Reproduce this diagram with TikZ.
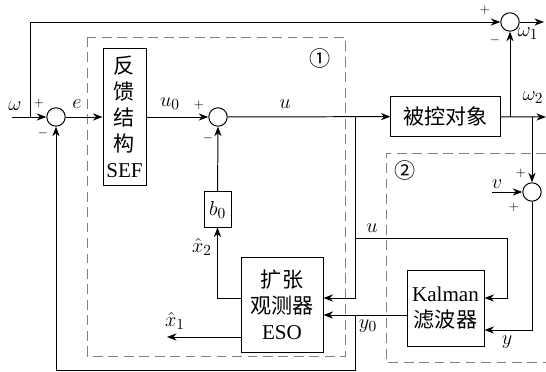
\documentclass[tikz,border=0pt]{standalone}
\usepackage{fontspec}
\setmainfont{Liberation Serif}
\newfontfamily\cjk{Noto Sans CJK SC}
\usetikzlibrary{arrows.meta}

\newcommand{\zh}[1]{{\cjk #1}}

\tikzset{
	block/.style={draw, line width=0.7pt, align=center, inner sep=0pt},
	sumnode/.style={draw, circle, line width=0.7pt, minimum size=0.46cm, inner sep=0pt},
	frame/.style={gray, line width=0.7pt, dash pattern=on 7pt off 4pt},
	sig/.style={line width=0.7pt, ->},
	sign/.style={font=\small},
}

\begin{document}
\begin{tikzpicture}[x=0.025cm, y=-0.025cm, >={Stealth[length=2.4mm, width=1.8mm]}, font=\fontsize{15}{18.5}\selectfont]
	\useasboundingbox (0,0) rectangle (546,372);
	% dashed frames
	\draw[frame] (87,37) rectangle (345,356);
	\draw[frame] (546,153) -- (386,153) -- (386,362) -- (546,362);
	\node (n1) at (320,58) {\zh{①}};
	\node (n2) at (405,170) {\zh{②}};
	% blocks
	\node[sumnode] (s1) at (56,117) {};
	\node[block, minimum width=1.075cm, minimum height=3.4cm] (sef) at (124.5,117) {\zh{反}\\\zh{馈}\\\zh{结}\\\zh{构}\\SEF};
	\node[sumnode] (s2) at (218,117) {};
	\node[block, minimum width=2.725cm, minimum height=0.975cm] (plant) at (445.5,116.5) {\zh{被控对象}};
	\node[block, minimum width=0.675cm, minimum height=0.875cm] (b0) at (217.5,209.5) {$b_0$};
	\node[block, minimum width=2.05cm, minimum height=2.35cm] (eso) at (282,305) {\zh{扩张}\\\zh{观测器}\\ESO};
	\node[block, minimum width=1.925cm, minimum height=1.875cm] (kal) at (445.5,308.5) {Kalman\\\zh{滤波器}};
	\node[sumnode] (s3) at (532,192) {};
	\node[sumnode] (s4) at (510,22) {};
	% points on the lines
	\coordinate (win) at (12,117);
	\coordinate (jtop) at (30,117);
	\coordinate (out1) at (544,22);
	\coordinate (out2) at (546,117);
	\coordinate (jw) at (510,117);
	\coordinate (jv) at (532,117);
	\coordinate (vin) at (492,192);
	\coordinate (ju) at (355,117);
	\coordinate (ub) at (355,238);
	\coordinate (uc) at (507,298);
	\coordinate (jy) at (355,315);
	\coordinate (jb) at (355,370);
	\coordinate (yk) at (532,330);
	\coordinate (x1end) at (167,337);
	% connections
	\draw[sig] (win) -- (s1);
	\draw[sig] (jtop) |- (s4);
	\draw[sig] (s4) -- (out1);
	\draw[sig] (s1) -- (sef);
	\draw[sig] (sef) -- (s2);
	\draw[sig] (s2) -- (plant);
	\draw[sig] (plant) -- (out2);
	\draw[sig] (jw) -- (s4);
	\draw[sig] (jv) -- (s3);
	\draw[sig] (vin) -- (s3);
	\draw[sig] (s3) -- (yk) -- (kal.east |- yk);
	\draw[sig] (ju) |- (eso.east |- uc);
	\draw[sig] (ub) -| (uc) -- (kal.east |- uc);
	\draw[sig] (kal.west |- jy) -- (eso.east |- jy);
	\draw[sig] (jy) -- (jb) -| (s1);
	\draw[sig] (eso.west |- uc) -| (b0);
	\draw[sig] (b0) -- (s2);
	\draw[sig] (eso.west |- x1end) -- (x1end);
	% labels
	\node (lw) at (15,106) {$\omega$};
	\node[sign] at (39,103) {$+$};
	\node[sign] at (43,133) {$-$};
	\node (le) at (77,104) {$e$};
	\node (lu0) at (170,104) {$u_0$};
	\node[sign] at (199,105) {$+$};
	\node[sign] at (208,138) {$-$};
	\node (lu) at (285,104) {$u$};
	\node (lw2) at (533,98) {$\omega_2$};
	\node[sign] at (485,10) {$+$};
	\node[sign] at (495,40) {$-$};
	\node (lw1) at (528,34) {$\omega_1$};
	\node (lv) at (497,184) {$v$};
	\node[sign] at (521,173) {$+$};
	\node[sign] at (514,207) {$+$};
	\node (lu2) at (372,228) {$u$};
	\node (ly0) at (368,326) {$y_0$};
	\node (ly) at (507,342) {$y$};
	\node (lx2) at (202,247) {$\hat{x}_2$};
	\node (lx1) at (175,321) {$\hat{x}_1$};
\end{tikzpicture}
\end{document}
